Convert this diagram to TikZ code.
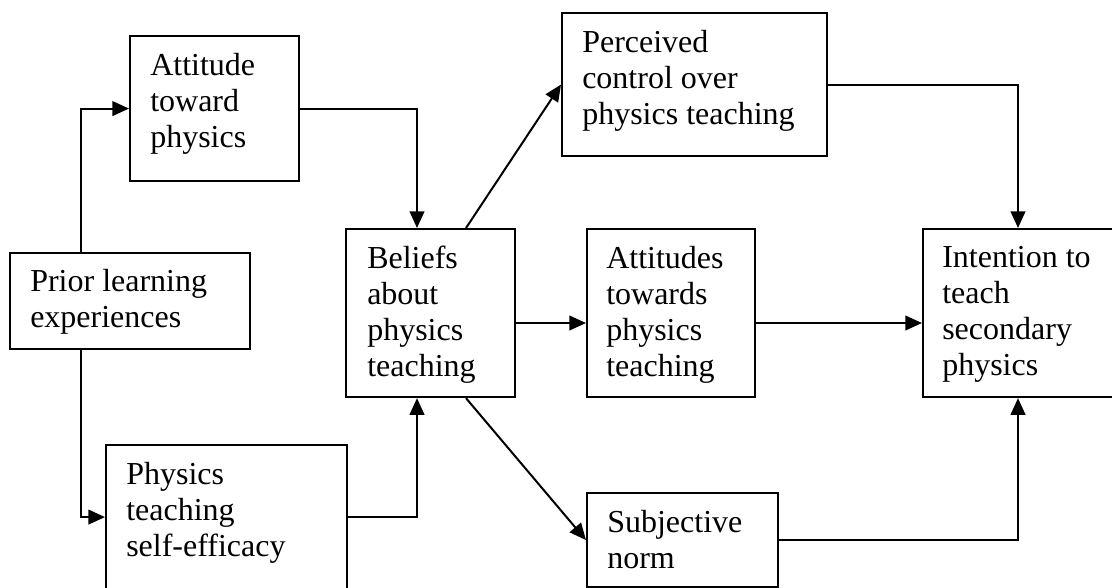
\documentclass[tikz,border=0pt]{standalone}
\usepackage{fontspec}
\setmainfont{Liberation Serif}
\usetikzlibrary{arrows.meta,calc}

\tikzset{
  box/.style 2 args={draw, line width=1.6pt, rectangle, inner sep=0pt,
    anchor=north west, minimum width=#1*0.75pt, minimum height=#2*0.75pt},
  lbl/.style={anchor=north west, inner sep=0pt, align=left,
    font=\fontsize{24}{27}\selectfont},
  arr/.style={line width=1.5pt, -{Triangle[length=12.5pt,width=11pt]}},
}

\begin{document}
\begin{tikzpicture}[x=0.75pt, y=-0.75pt]
  \useasboundingbox (0,0) rectangle (1112,587);
  \clip (0,0) rectangle (1112,587);

  % boxes (top-left corner, width, height)
  \node[box={169}{145}] (att)  at (129,35)  {};
  \node[box={240}{96}]  (prior) at (9,252)  {};
  \node[box={241}{144}] (eff)  at (105,444) {};
  \node[box={169}{168}] (bel)  at (345,228) {};
  \node[box={265}{143}] (per)  at (561,12)  {};
  \node[box={168}{168}] (attd) at (586,228) {};
  \node[box={200}{168}] (int)  at (922,228) {};
  \node[box={191}{94}]  (subj) at (586,492) {};

  % box texts
  \node[lbl] (attT)  at ($(att.north west)+(21,18)$)   {Attitude\\toward\\physics};
  \node[lbl] (priorT) at ($(prior.north west)+(21,17)$) {Prior learning\\experiences};
  \node[lbl] (effT)  at ($(eff.north west)+(21,18)$)   {Physics\\teaching\\self-efficacy};
  \node[lbl] (belT)  at ($(bel.north west)+(22,18)$)   {Beliefs\\about\\physics\\teaching};
  \node[lbl] (perT)  at ($(per.north west)+(21,18)$)   {Perceived\\control over\\physics teaching};
  \node[lbl] (attdT) at ($(attd.north west)+(20,18)$)  {Attitudes\\towards\\physics\\teaching};
  \node[lbl] (intT)  at ($(int.north west)+(20,18)$)   {Intention to\\teach\\secondary\\physics};
  \node[lbl] (subjT) at ($(subj.north west)+(21,18)$)  {Subjective\\norm};

  % helper coordinates for the routed connectors
  \coordinate (row) at (0,323);
  \coordinate (pTop) at ($(prior.north west)+(72,0)$);
  \coordinate (pBot) at ($(prior.south west)+(72,0)$);
  \coordinate (bTopIn) at ($(bel.north west)+(72,0)$);
  \coordinate (bBotIn) at ($(bel.south west)+(72,0)$);
  \coordinate (bTopOut) at ($(bel.north west)+(121,0)$);
  \coordinate (bBotOut) at ($(bel.south west)+(121,0)$);
  \coordinate (iTop) at ($(int.north west)+(96,0)$);
  \coordinate (iBot) at ($(int.south west)+(96,0)$);

  % connectors
  \draw[arr] (pTop) |- (att.west);
  \draw[arr] (pBot) |- (eff.west);
  \draw[arr] (att.east) -| (bTopIn);
  \draw[arr] (eff.east) -| (bBotIn);
  \draw[arr] (bTopOut) -- (per.west);
  \draw[arr] (bBotOut) -- (subj.west);
  \draw[arr] (bel.east |- row) -- (attd.west |- row);
  \draw[arr] (attd.east |- row) -- (int.west |- row);
  \draw[arr] (per.east) -| (iTop);
  \draw[arr] (subj.east) -| (iBot);
\end{tikzpicture}
\end{document}
